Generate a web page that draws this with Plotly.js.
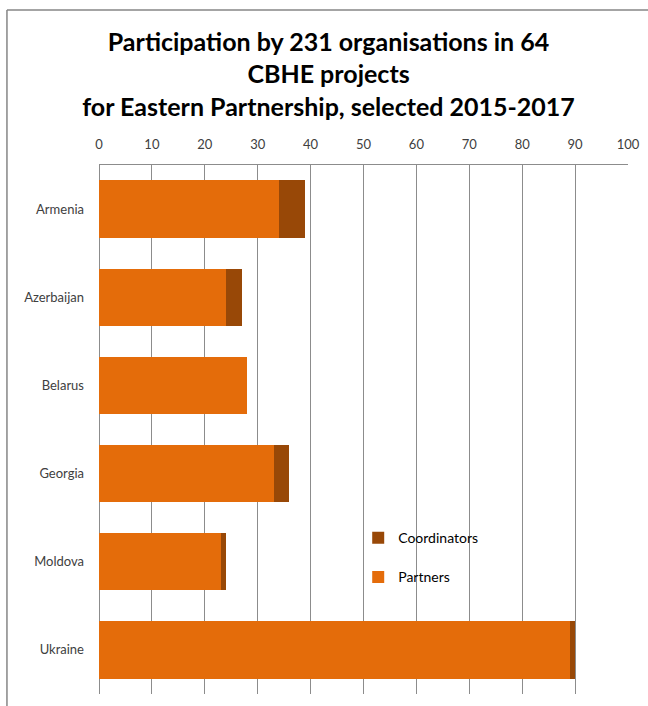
<!DOCTYPE html>
<html>
<head>
<meta charset="utf-8">
<script src="https://cdn.plot.ly/plotly-3.0.1.min.js"></script>
<style>html,body{margin:0;padding:0;background:#fff;}#chart{width:648px;height:706px;}</style>
</head>
<body>
<div id="chart"></div>
<script>
const countries = ["Armenia", "Azerbaijan", "Belarus", "Georgia", "Moldova", "Ukraine"];
const partners = [34, 24, 28, 33, 23, 89];
const coordinators = [5, 3, 0, 3, 1, 1];
const tickVals = [0, 10, 20, 30, 40, 50, 60, 70, 80, 90, 100];

const FONT = "Lato, 'Open Sans', sans-serif";

const traces = [
  {
    type: "bar", orientation: "h", name: "Partners",
    y: countries, x: partners,
    marker: {color: "#E46C0A"},
    legendgroup: "p", legendrank: 2, hoverinfo: "x+name"
  },
  {
    type: "bar", orientation: "h", name: "Coordinators",
    y: countries, x: coordinators,
    marker: {color: "#984807"},
    legendgroup: "c", legendrank: 1, hoverinfo: "x+name"
  }
];

const layout = {
  width: 648, height: 706,
  margin: {l: 99, r: 20, t: 165, b: 12},
  paper_bgcolor: "#fff", plot_bgcolor: "#fff",
  barmode: "stack", bargap: 0.35,
  font: {family: FONT, color: "#404040", size: 13},
  title: {
    text: "<b>Participation by 231 organisations in 64<br>CBHE projects<br>for Eastern Partnership, selected 2015-2017</b>",
    font: {family: FONT, size: 25, color: "#000"},
    x: 0.507, xref: "container", xanchor: "center",
    y: 0.928, yref: "container", yanchor: "top"
  },
  xaxis: {
    side: "top", range: [0, 100], tickvals: tickVals,
    showgrid: true, gridcolor: "#8c8c8c", gridwidth: 1,
    showline: true, linecolor: "#8c8c8c", linewidth: 1,
    zeroline: true, zerolinecolor: "#8c8c8c", zerolinewidth: 1,
    ticks: "", ticklen: 0, ticklabelstandoff: 10, tickfont: {size: 13, color: "#404040"},
    fixedrange: true
  },
  yaxis: {
    autorange: "reversed", showgrid: false, zeroline: false, showline: false,
    ticks: "", ticklen: 0, ticklabelstandoff: 14, tickfont: {size: 13, color: "#404040"},
    fixedrange: true
  },
  showlegend: true,
  legend: {
    x: 0.49, y: 0.325, xanchor: "left", yanchor: "top",
    traceorder: "grouped", tracegroupgap: 18,
    font: {size: 14, color: "#000"},
    bgcolor: "rgba(0,0,0,0)"
  },
  shapes: [
    {type: "line", xref: "paper", yref: "paper", x0: -0.174, x1: 1.04, y0: 1.293, y1: 1.293,
     line: {color: "#868686", width: 1.5}},
    {type: "line", xref: "paper", yref: "paper", x0: -0.174, x1: -0.174, y0: 1.293, y1: -0.03,
     line: {color: "#868686", width: 1.5}}
  ]
};

Plotly.newPlot("chart", traces, layout, {displayModeBar: false, staticPlot: true});
</script>
</body>
</html>
